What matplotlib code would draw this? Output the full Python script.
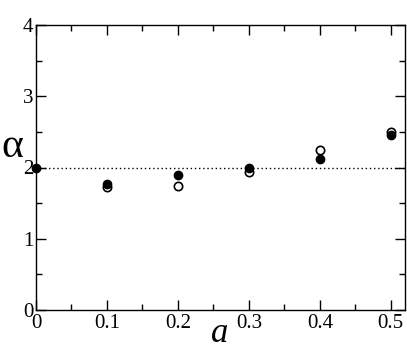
import matplotlib
matplotlib.use("Agg")
import matplotlib.pyplot as plt
from matplotlib.ticker import MultipleLocator

plt.rcParams['font.family'] = ['Liberation Serif', 'DejaVu Serif']

# datos
a_llenos = [0.0, 0.1, 0.2, 0.3, 0.4, 0.5]
alfa_llenos = [2.0, 1.77, 1.90, 2.00, 2.12, 2.45]
a_vacios = [0.1, 0.2, 0.3, 0.4, 0.5]
alfa_vacios = [1.73, 1.74, 1.93, 2.25, 2.50]
x_ticks = [0, 0.1, 0.2, 0.3, 0.4, 0.5]
x_labels = ['0', '0.1', '0.2', '0.3', '0.4', '0.5']
y_ticks = [0, 1, 2, 3, 4]

fig = plt.figure(figsize=(4.07, 3.51), dpi=100)
ax = fig.add_axes([36/407, 1 - 310/351, 369/407, 285/351])

ax.axhline(2.0, color='black', linestyle=(0, (1, 2)), linewidth=1.0, zorder=1)
ax.plot(a_vacios, alfa_vacios, 'o', ms=6, mfc='white', mec='black', mew=1.2,
        linestyle='none', zorder=2, clip_on=False)
ax.plot(a_llenos, alfa_llenos, 'o', ms=6, mfc='black', mec='black',
        linestyle='none', zorder=3, clip_on=False)

ax.set_xlim(0, 0.52)
ax.set_ylim(0, 4)
ax.set_xticks(x_ticks)
ax.set_xticklabels(x_labels)
ax.set_yticks(y_ticks)
ax.xaxis.set_minor_locator(MultipleLocator(0.05))
ax.yaxis.set_minor_locator(MultipleLocator(0.5))
ax.tick_params(which='both', direction='in', top=True, right=True, labelsize=15)
ax.tick_params(which='major', length=7, width=1.0)
ax.tick_params(which='minor', length=4, width=1.0)
ax.tick_params(axis='y', pad=2)
ax.tick_params(axis='x', pad=3)
for s in ax.spines.values():
    s.set_linewidth(1.0)

# etiquetas de los ejes
fig.text(220/407, 1 - 342/351, 'a', fontsize=25, style='italic',
         ha='center', va='baseline')
fig.text(12/407, 1 - 147/351, 'α', fontsize=30,
         ha='center', va='center')

fig.savefig('out.png', dpi=100)
